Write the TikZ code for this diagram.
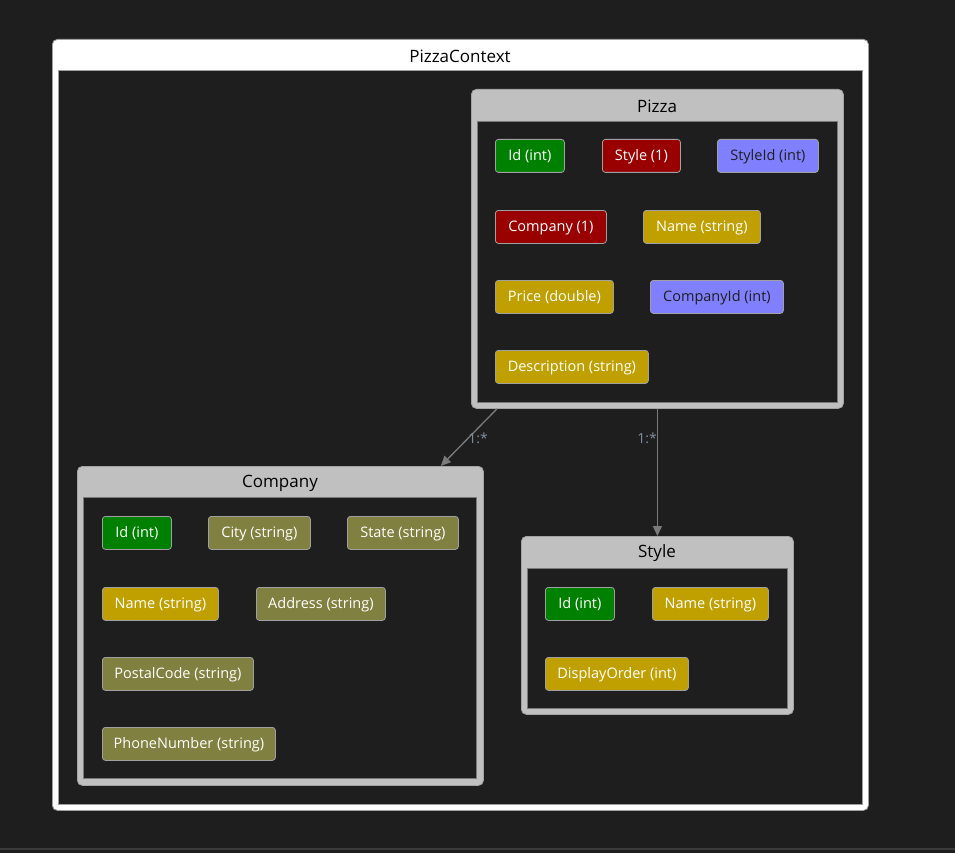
\documentclass[tikz,border=0pt]{standalone}
\usepackage{fontspec}
\setmainfont{Open Sans}
\usetikzlibrary{arrows.meta}

\definecolor{canvas}{HTML}{1E1E1E}
\definecolor{strip}{HTML}{3A3A3A}
\definecolor{keygreen}{HTML}{008000}
\definecolor{navred}{HTML}{990000}
\definecolor{fkblue}{HTML}{8080FF}
\definecolor{reqgold}{HTML}{C0A000}
\definecolor{optolive}{HTML}{808040}
\definecolor{entgray}{HTML}{C0C0C0}
\definecolor{attredge}{HTML}{A0A0A0}
\definecolor{linkgray}{HTML}{7A7A7A}
\definecolor{labelblue}{HTML}{7F8FA0}
\definecolor{inneredge}{HTML}{7A7A7A}

\tikzset{
  attr/.style={draw=attredge, line width=0.8pt, rounded corners=3pt,
    anchor=north west, inner sep=0pt, minimum height=33pt,
    text=white, font=\fontsize{14.5}{17}\selectfont,
    text height=11.5pt, text depth=1.5pt},
  darktext/.style={text=canvas},
  entity/.style={fill=entgray, draw=entgray!85!black, line width=0.8pt,
    rounded corners=5pt, anchor=north west, inner sep=0pt},
  entbody/.style={fill=canvas, draw=inneredge, line width=0.8pt},
  title/.style={text=black, font=\fontsize{17}{20}\selectfont},
  link/.style={draw=linkgray, line width=1.3pt,
    -{Triangle[length=10pt,width=9pt]}},
  mult/.style={text=labelblue, font=\fontsize{14}{16}\selectfont}
}

\begin{document}
\begin{tikzpicture}[x=1pt,y=-1pt]
  \useasboundingbox[fill=canvas] (0,0) rectangle (955,853);
  \fill[strip] (0,848) rectangle (955,850);

  % context frame
  \node[fill=white, draw=attredge, line width=0.8pt, rounded corners=5pt,
        anchor=north west, inner sep=0pt, minimum width=816pt,
        minimum height=771pt] (ctx) at (52,39) {};
  \draw[entbody, draw=attredge] (58,70) rectangle (862,804);
  \node[title] (ctxtitle) at (460,56) {PizzaContext};

  % Pizza entity
  \node[entity, minimum width=372pt, minimum height=319pt] (pizza) at (471,89) {};
  \draw[entbody] (477,121) rectangle (837,402);
  \node[title] (pizzatitle) at (657,106) {Pizza};
  \node[attr, fill=keygreen, minimum width=69pt]  (pid)    at (495,139) {Id (int)};
  \node[attr, fill=navred, minimum width=78pt]    (pstyle) at (602,139) {Style (1)};
  \node[attr, fill=fkblue, darktext, minimum width=101pt] (pstyleid) at (717,139) {StyleId (int)};
  \node[attr, fill=navred, minimum width=111pt]   (pcomp)  at (495,210) {Company (1)};
  \node[attr, fill=reqgold, minimum width=117pt]  (pname)  at (643,210) {Name (string)};
  \node[attr, fill=reqgold, minimum width=118pt]  (pprice) at (495,280) {Price (double)};
  \node[attr, fill=fkblue, darktext, minimum width=133pt] (pcompid) at (650,280) {CompanyId (int)};
  \node[attr, fill=reqgold, minimum width=153pt]  (pdesc)  at (495,350) {Description (string)};

  % Company entity
  \node[entity, minimum width=406pt, minimum height=319pt] (company) at (77,466) {};
  \draw[entbody] (83,497) rectangle (476,778);
  \node[title] (companytitle) at (280,483) {Company};
  \node[attr, fill=keygreen, minimum width=69pt]  (cid)    at (102,516) {Id (int)};
  \node[attr, fill=optolive, minimum width=102pt] (ccity)  at (208,516) {City (string)};
  \node[attr, fill=optolive, minimum width=111pt] (cstate) at (347,516) {State (string)};
  \node[attr, fill=reqgold, minimum width=116pt]  (cname)  at (102,587) {Name (string)};
  \node[attr, fill=optolive, minimum width=129pt] (caddr)  at (256,587) {Address (string)};
  \node[attr, fill=optolive, minimum width=151pt] (cpost)  at (102,657) {PostalCode (string)};
  \node[attr, fill=optolive, minimum width=173pt] (cphone) at (102,727) {PhoneNumber (string)};

  % Style entity
  \node[entity, minimum width=272pt, minimum height=178pt] (style) at (521,536) {};
  \draw[entbody] (527,568) rectangle (787,708);
  \node[title] (styletitle) at (657,553) {Style};
  \node[attr, fill=keygreen, minimum width=69pt]  (sid)    at (545,587) {Id (int)};
  \node[attr, fill=reqgold, minimum width=116pt]  (sname)  at (652,587) {Name (string)};
  \node[attr, fill=reqgold, minimum width=143pt]  (sorder) at (545,657) {DisplayOrder (int)};

  % relationships
  \draw[link] ([xshift=26pt]pizza.south west) -- ([xshift=-43pt]company.north east);
  \node[mult] (m1) at (478,438) {1:*};
  \draw[link] (pizza.south) -- (style.north);
  \node[mult] (m2) at (647,438) {1:*};
\end{tikzpicture}
\end{document}
